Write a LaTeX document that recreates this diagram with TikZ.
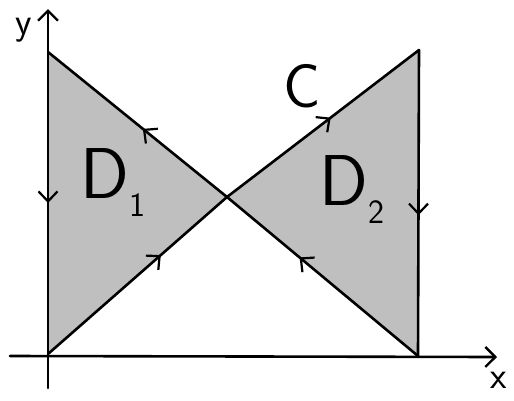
\documentclass[tikz,border=0pt]{standalone}
\usetikzlibrary{arrows.meta,decorations.markings}
\tikzset{
  curve/.style={line width=2.6pt, line cap=round, line join=round},
  axis/.style={line width=2.6pt, line cap=round, -{Straight Barb[length=10pt,width=20pt,line width=2.4pt]}},
  midarrow/.style={postaction={decorate}, decoration={markings, mark=at position #1 with {\arrow{Straight Barb[length=10pt,width=19pt,line width=2.2pt]}}}},
  lbl/.style={font=\sffamily\fontsize{#1}{#1}\selectfont, inner sep=0pt},
  region/.style={fill=black!25, draw=none}
}
\begin{document}
\begin{tikzpicture}[x=1pt,y=-1pt]
\useasboundingbox (0,0) rectangle (514,400);
% vertices
\coordinate (TL) at (48,52);
\coordinate (BL) at (48,354);
\coordinate (X) at (227,197);
\coordinate (TR) at (419,50);
\coordinate (BR) at (418,356);
% regions
\fill[region] (TL) -- (X) -- (BL) -- cycle;
\fill[region] (X) -- (TR) -- (BR) -- cycle;
% axes
\coordinate (xs) at (10,356);
\coordinate (xe) at (497,357);
\coordinate (ys) at (48,388);
\coordinate (ye) at (48,9);
\draw[axis] (xs) -- (xe);
\draw[axis] (ys) -- (ye);
% curve C
\draw[curve, midarrow=0.5] (TL) -- (BL);
\draw[curve, midarrow=0.63] (BL) -- (X);
\draw[curve, midarrow=0.54] (X) -- (TR);
\draw[curve, midarrow=0.54] (TR) -- (BR);
\draw[curve, midarrow=0.62] (BR) -- (X);
\draw[curve, midarrow=0.47] (X) -- (TL);
% labels
\node[lbl=38] (ylab) at (24,30) {y};
\node[lbl=38] (xlab) at (499,380) {x};
\node[lbl=62] (clab) at (302,86) {C};
\node[lbl=72] (d1) at (113,183) {D\raisebox{-0.25em}{\fontsize{34}{34}\selectfont 1}};
\node[lbl=72] (d2) at (352,190) {D\raisebox{-0.25em}{\fontsize{34}{34}\selectfont 2}};
\end{tikzpicture}
\end{document}
